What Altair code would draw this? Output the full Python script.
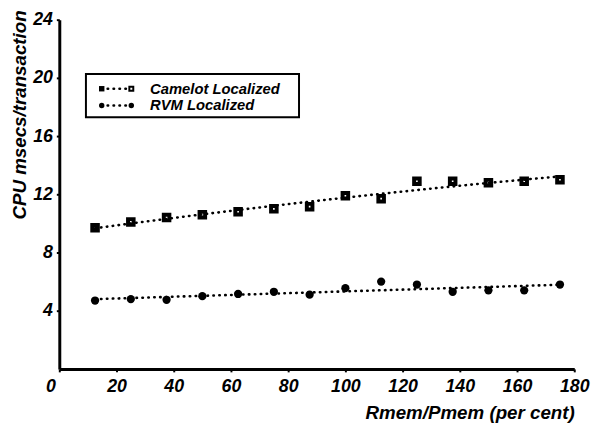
import altair as alt
import pandas as pd

# ---- data ----
x_vals = [12.5, 25, 37.5, 50, 62.5, 75, 87.5, 100, 112.5, 125, 137.5, 150, 162.5, 175]
camelot = [9.7, 10.1, 10.4, 10.6, 10.8, 11.0, 11.15, 11.9, 11.7, 12.9, 12.9, 12.8, 12.9, 13.0]
rvm = [4.7, 4.8, 4.75, 5.0, 5.15, 5.3, 5.1, 5.55, 6.0, 5.8, 5.3, 5.4, 5.4, 5.8]
series_names = ["Camelot Localized", "RVM Localized"]
x_ticks = [0, 20, 40, 60, 80, 100, 120, 140, 160, 180]
y_ticks = [4, 8, 12, 16, 20, 24]
x_title = "Rmem/Pmem (per cent)"
y_title = "CPU msecs/transaction"

FONT = "Liberation Sans"

cam_df = pd.DataFrame({"x": x_vals, "y": camelot})
rvm_df = pd.DataFrame({"x": x_vals, "y": rvm})
one = pd.DataFrame({"a": [0]})

x_enc = alt.X(
    "x:Q",
    scale=alt.Scale(domain=[0, 180], nice=False, zero=False),
    axis=alt.Axis(
        values=x_ticks,
        title=x_title,
        titleAnchor="end",
        titlePadding=8,
        labelFlush=False,
        labelPadding=6,
        labelOffset={"condition": {"test": "datum.value === 0", "value": -9}, "value": 0},
    ),
)
y_enc = alt.Y(
    "y:Q",
    scale=alt.Scale(domain=[0, 24], nice=False),
    axis=alt.Axis(
        values=y_ticks,
        title=y_title,
        titleAngle=270,
        titleX=-40,
        titleY=-10,
        titleAlign="right",
        titleBaseline="middle",
        labelFlush=False,
    ),
)

dot = dict(strokeDash=[0.5, 5.5], strokeWidth=2.6, color="black", strokeCap="round")

cam_line = (
    alt.Chart(cam_df)
    .transform_regression("x", "y", method="poly", order=2)
    .mark_line(**dot)
    .encode(x=x_enc, y=y_enc)
)
cam_pts = (
    alt.Chart(cam_df)
    .mark_point(shape="square", filled=False, strokeWidth=4, size=32, color="black", opacity=1)
    .encode(x="x:Q", y="y:Q")
)
rvm_line = (
    alt.Chart(rvm_df)
    .transform_regression("x", "y")
    .mark_line(**dot)
    .encode(x="x:Q", y="y:Q")
)
rvm_pts = (
    alt.Chart(rvm_df)
    .mark_circle(size=70, color="black", opacity=1)
    .encode(x="x:Q", y="y:Q")
)

# ---- legend box ----
lx0, lx1, ly0, ly1 = 27, 243, 55, 99
row_y = [70, 87]
sym_l, sym_r, txt_x = 43, 73, 92

frame = alt.Chart(one).mark_rect(fill="white", stroke="black", strokeWidth=2).encode(
    x=alt.value(lx0), x2=alt.value(lx1), y=alt.value(ly0), y2=alt.value(ly1)
)
leg_layers = [frame]
for i, name in enumerate(series_names):
    leg_layers.append(
        alt.Chart(one).mark_rule(**dot).encode(
            x=alt.value(sym_l), x2=alt.value(sym_r), y=alt.value(row_y[i])
        )
    )
    if i == 0:
        leg_layers.append(
            alt.Chart(one).mark_point(shape="square", filled=True, size=30, color="black", opacity=1)
            .encode(x=alt.value(sym_l), y=alt.value(row_y[i]))
        )
        leg_layers.append(
            alt.Chart(one).mark_point(shape="square", filled=False, strokeWidth=2, size=16, color="black", opacity=1)
            .encode(x=alt.value(sym_r), y=alt.value(row_y[i]))
        )
    else:
        for sx in (sym_l, sym_r):
            leg_layers.append(
                alt.Chart(one).mark_circle(size=30, color="black", opacity=1)
                .encode(x=alt.value(sx), y=alt.value(row_y[i]))
            )
    leg_layers.append(
        alt.Chart(one).mark_text(
            text=name, font=FONT, fontSize=15, fontStyle="italic", fontWeight="bold",
            align="left", baseline="middle", color="black"
        ).encode(x=alt.value(txt_x), y=alt.value(row_y[i]))
    )

chart = (
    alt.layer(cam_line, cam_pts, rvm_line, rvm_pts, *leg_layers)
    .properties(
        width=522,
        height=354,
        autosize=alt.AutoSizeParams(type="none"),
        padding={"left": 52, "top": 9, "right": 19, "bottom": 52},
        background="white",
    )
    .configure_view(stroke=None)
    .configure_axis(
        grid=False,
        domainColor="black",
        domainWidth=3,
        tickColor="black",
        tickWidth=2,
        tickSize=3,
        labelFont=FONT,
        labelFontSize=18,
        labelFontStyle="italic",
        labelFontWeight="bold",
        labelColor="black",
        labelPadding=4,
        titleFont=FONT,
        titleFontSize=19,
        titleFontStyle="italic",
        titleFontWeight="bold",
        titleColor="black",
    )
)

chart.save("out.html", embed_options={"renderer": "svg", "actions": False})
